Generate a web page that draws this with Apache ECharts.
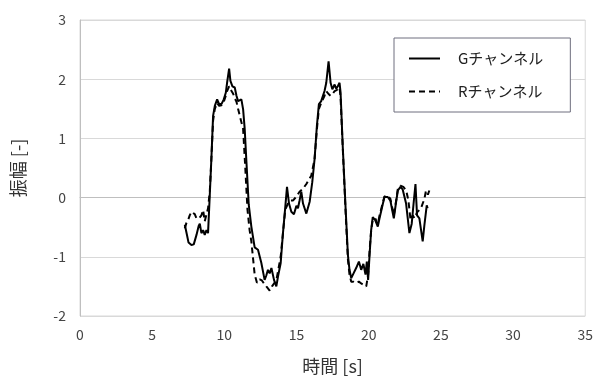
<!DOCTYPE html>
<html>
<head>
<meta charset="utf-8">
<script src="https://cdn.jsdelivr.net/npm/echarts@6/dist/echarts.min.js"></script>
<style>html,body{margin:0;padding:0;background:#fff;}#c{width:596px;height:380px;}</style>
</head>
<body>
<div id="c"></div>
<script>
const seriesNames = ['Gチャンネル', 'Rチャンネル'];
const xTicks = [0, 5, 10, 15, 20, 25, 30, 35];
const yTicks = [-2, -1, 0, 1, 2, 3];

const gTime = [7.26,7.40,7.52,7.72,7.88,8.07,8.22,8.30,8.41,8.53,8.64,8.76,8.87,8.99,9.10,9.22,9.34,9.50,9.64,9.80,9.96,10.10,10.19,10.33,10.42,10.56,10.72,10.84,10.95,11.05,11.18,11.30,11.41,11.53,11.69,11.87,12.10,12.33,12.56,12.79,12.90,13.02,13.14,13.26,13.44,13.60,13.72,13.90,14.06,14.22,14.34,14.48,14.64,14.82,14.99,15.10,15.21,15.33,15.45,15.68,15.91,16.09,16.25,16.41,16.55,16.71,16.82,16.94,17.06,17.22,17.36,17.48,17.64,17.75,17.86,17.98,18.05,18.21,18.40,18.56,18.67,18.79,18.95,19.13,19.32,19.48,19.63,19.78,19.87,19.96,20.06,20.17,20.28,20.45,20.63,20.75,20.91,21.09,21.32,21.50,21.74,21.90,22.02,22.20,22.35,22.59,22.82,22.98,23.12,23.24,23.35,23.51,23.74,23.86,24.02,24.08];
const gValue = [-0.46,-0.62,-0.76,-0.80,-0.79,-0.63,-0.48,-0.44,-0.60,-0.55,-0.63,-0.55,-0.60,0.04,0.65,1.38,1.55,1.66,1.58,1.58,1.66,1.77,1.94,2.18,1.97,1.88,1.86,1.72,1.63,1.66,1.66,1.49,1.16,0.60,-0.12,-0.49,-0.84,-0.88,-1.10,-1.39,-1.32,-1.22,-1.28,-1.19,-1.39,-1.50,-1.33,-1.11,-0.60,-0.16,0.18,-0.10,-0.24,-0.28,-0.14,-0.18,-0.05,0.10,-0.10,-0.27,-0.07,0.26,0.65,1.21,1.58,1.63,1.60,1.80,1.94,2.30,1.94,1.83,1.91,1.84,1.88,1.94,1.78,0.82,-0.18,-0.97,-1.22,-1.36,-1.28,-1.19,-1.08,-1.22,-1.12,-1.30,-1.08,-1.39,-0.97,-0.55,-0.33,-0.38,-0.49,-0.35,-0.18,0.01,0.01,-0.05,-0.35,-0.07,0.12,0.18,0.14,-0.10,-0.60,-0.44,-0.07,0.23,-0.30,-0.35,-0.74,-0.46,-0.13,-0.18];

const rTime = [7.26,7.38,7.49,7.60,7.72,7.84,7.95,8.07,8.25,8.41,8.53,8.64,8.76,8.87,8.99,9.10,9.22,9.34,9.50,9.64,9.80,9.96,10.10,10.19,10.33,10.45,10.60,10.72,10.84,10.95,11.07,11.30,11.45,11.60,11.75,11.87,12.10,12.26,12.45,12.60,12.75,12.91,13.14,13.30,13.45,13.60,13.75,13.90,14.06,14.22,14.41,14.60,14.75,15.00,15.21,15.45,15.68,15.85,16.02,16.25,16.41,16.55,16.71,16.94,17.06,17.22,17.36,17.50,17.64,17.80,17.98,18.05,18.21,18.40,18.56,18.67,18.79,18.95,19.13,19.32,19.48,19.60,19.83,19.96,20.06,20.17,20.28,20.45,20.63,20.75,20.91,21.09,21.32,21.50,21.74,21.90,22.02,22.20,22.40,22.60,22.75,22.90,23.05,23.17,23.35,23.62,23.86,23.97,24.10,24.20];
const rValue = [-0.52,-0.42,-0.38,-0.30,-0.24,-0.21,-0.28,-0.35,-0.35,-0.30,-0.21,-0.40,-0.37,-0.18,0.10,0.65,1.30,1.50,1.60,1.55,1.56,1.62,1.72,1.80,1.88,1.82,1.76,1.68,1.62,1.50,1.38,1.16,0.50,-0.20,-0.55,-0.74,-1.30,-1.44,-1.38,-1.40,-1.45,-1.50,-1.57,-1.50,-1.45,-1.40,-1.20,-1.00,-0.60,-0.20,-0.10,-0.05,-0.05,0.02,0.10,0.15,0.23,0.30,0.37,0.65,1.15,1.50,1.60,1.72,1.80,1.75,1.72,1.75,1.80,1.82,1.86,1.70,0.80,-0.25,-1.05,-1.30,-1.42,-1.42,-1.44,-1.42,-1.45,-1.47,-1.50,-1.30,-0.90,-0.55,-0.38,-0.35,-0.45,-0.30,-0.15,0.02,0.03,-0.02,-0.30,-0.05,0.15,0.20,0.18,0.12,-0.05,-0.38,-0.30,-0.35,-0.25,-0.18,-0.02,0.12,0.05,0.12];

function pairs(t, v) { return t.map((x, i) => [x, v[i]]); }

const font = '"Noto Sans CJK JP", "Noto Sans", sans-serif';
const chart = echarts.init(document.getElementById('c'), null, {renderer: 'canvas'});
chart.setOption({
  animation: false,
  backgroundColor: '#ffffff',
  textStyle: {fontFamily: font},
  grid: {left: 80, right: 10, top: 20, bottom: 62, show: true, borderColor: '#d9d9d9', borderWidth: 1},
  legend: {
    orient: 'vertical',
    left: 394, top: 38,
    padding: [13, 27, 13, 14],
    itemWidth: 31, itemHeight: 14, itemGap: 18,
    backgroundColor: '#ffffff',
    borderColor: '#6e6e7e', borderWidth: 1,
    itemStyle: {opacity: 0, borderWidth: 0},
    textStyle: {fontSize: 15, color: '#222', fontFamily: font, padding: [0, 0, 0, 13]},
    data: seriesNames
  },
  xAxis: {
    type: 'value', min: xTicks[0], max: xTicks[xTicks.length - 1], interval: 5,
    name: '時間 [s]', nameLocation: 'middle', nameGap: 41,
    nameTextStyle: {fontSize: 18, color: '#333', fontFamily: font},
    axisLine: {show: true, lineStyle: {color: '#bfbfbf', width: 1}},
    axisTick: {show: false},
    axisLabel: {fontSize: 14, color: '#444', margin: 12, fontFamily: font},
    splitLine: {show: false}
  },
  yAxis: {
    type: 'value', min: yTicks[0], max: yTicks[yTicks.length - 1], interval: 1,
    name: '振幅 [-]', nameLocation: 'middle', nameGap: 53, nameRotate: 90,
    nameTextStyle: {fontSize: 18, color: '#333', fontFamily: font},
    axisLine: {show: true, lineStyle: {color: '#bfbfbf', width: 1}},
    axisTick: {show: false},
    axisLabel: {fontSize: 14, color: '#444', margin: 14, fontFamily: font},
    splitLine: {show: true, lineStyle: {color: '#d9d9d9', width: 1}}
  },
  series: [
    {
      name: seriesNames[0], type: 'line', data: pairs(gTime, gValue),
      symbol: 'none', showSymbol: false, smooth: false,
      lineStyle: {color: '#000', width: 2, type: 'solid'},
      itemStyle: {color: '#000'}
    },
    {
      name: seriesNames[1], type: 'line', data: pairs(rTime, rValue),
      symbol: 'none', showSymbol: false, smooth: false,
      lineStyle: {color: '#000', width: 2, type: [6, 4]},
      itemStyle: {color: '#000'}
    }
  ]
});
</script>
</body>
</html>
